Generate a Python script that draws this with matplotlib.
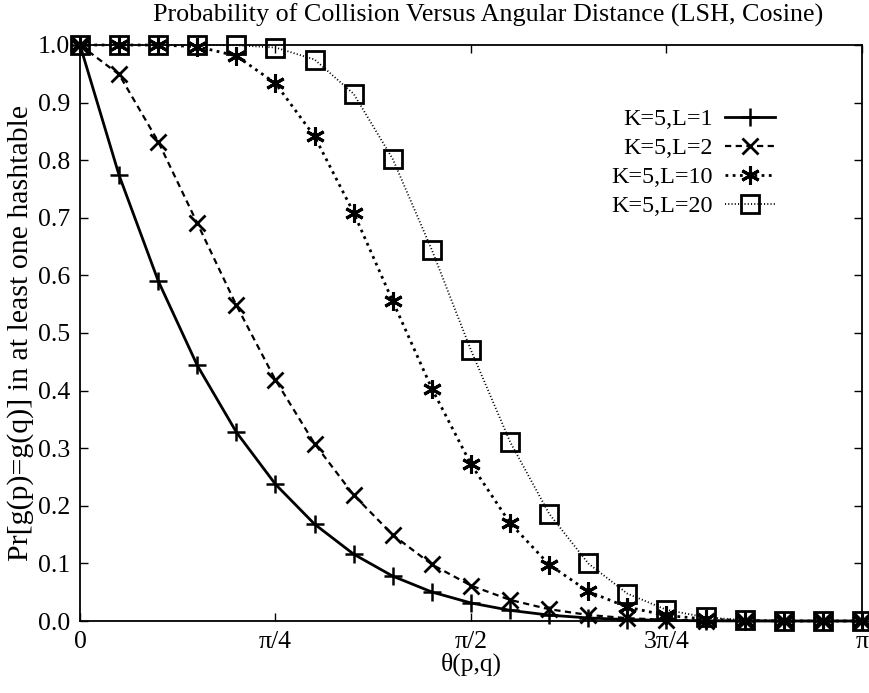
import numpy as np
import matplotlib
matplotlib.use("Agg")
import matplotlib.pyplot as plt

# Angular distance samples, in units of pi (0, pi/20, ..., pi)
theta_frac = [i / 20 for i in range(21)]

# Collision probability in at least one of L hash tables (K=5)
p_L1 = [1.0, 0.7738, 0.5905, 0.4437, 0.3277, 0.2373, 0.1681, 0.1160, 0.0778,
        0.0503, 0.0313, 0.0185, 0.0102, 0.0053, 0.0024, 0.0010, 0.0003,
        0.0001, 0.0, 0.0, 0.0]
p_L2 = [1.0, 0.9488, 0.8323, 0.6905, 0.5480, 0.4183, 0.3079, 0.2186, 0.1495,
        0.0981, 0.0615, 0.0366, 0.0204, 0.0105, 0.0049, 0.0020, 0.0006,
        0.0002, 0.0, 0.0, 0.0]
p_L10 = [1.0, 1.0, 0.9999, 0.9972, 0.9811, 0.9334, 0.8412, 0.7087, 0.5549,
         0.4033, 0.2720, 0.1699, 0.0978, 0.0513, 0.0240, 0.0097, 0.0032,
         0.0008, 0.0001, 0.0, 0.0]
p_L20 = [1.0, 1.0, 1.0, 1.0, 0.9996, 0.9956, 0.9748, 0.9151, 0.8019,
         0.6440, 0.4700, 0.3110, 0.1861, 0.0999, 0.0475, 0.0194, 0.0064,
         0.0015, 0.0002, 0.0, 0.0]

labels = ["K=5,L=1", "K=5,L=2", "K=5,L=10", "K=5,L=20"]
x_ticks = [0, 0.25, 0.5, 0.75, 1.0]
x_tick_labels = ["0", "π/4", "π/2", "3π/4", "π"]
y_ticks = [i / 10 for i in range(11)]

plt.rcParams["font.family"] = ["Liberation Serif", "DejaVu Serif"]
plt.rcParams["font.size"] = 17.4

fig = plt.figure(figsize=(8.7, 6.93), dpi=100)
ax = fig.add_axes([80 / 870, 72 / 693, 782 / 870, 576 / 693])

x = np.pi * np.array(theta_frac)

styles = [
    dict(ls="-", lw=2.0, marker="+", ms=13, mew=1.8),
    dict(ls=(0, (2.8, 2.0)), lw=1.6, marker="x", ms=11, mew=2.0),
    dict(ls=(0, (1.0, 1.6)), lw=2.0, marker=(6, 2, 0), ms=13.5, mew=2.2),
    dict(ls=(0, (0.6, 1.2)), lw=1.3, marker="s", ms=12.5, mew=2.0, mfc="none"),
]
series = [p_L1, p_L2, p_L10, p_L20]
for y, lab, st in zip(series, labels, styles):
    ax.plot(x, y, color="black", label=lab, clip_on=False, **st)

ax.set_xlim(0, np.pi)
ax.set_ylim(0, 1.0)
ax.set_xticks(np.pi * np.array(x_ticks))
ax.set_xticklabels(x_tick_labels)
ax.set_yticks(y_ticks)
ax.set_yticklabels([f"{v:.1f}" for v in y_ticks])
ax.tick_params(direction="in", length=6, width=1.0, top=True, right=True,
               labeltop=False, labelright=False, pad=7, labelsize=18.5)
for sp in ax.spines.values():
    sp.set_linewidth(1.3)

ax.set_title("Probability of Collision Versus Angular Distance (LSH, Cosine)",
             pad=17, fontsize=18.85, x=0.522)
ax.set_xlabel("θ(p,q)", labelpad=0, fontsize=18.3)
ax.set_ylabel("Pr[g(p)=g(q)] in at least one hashtable", labelpad=3,
              fontsize=21.5)

ax.legend(loc="upper right", bbox_to_anchor=(0.889, 0.89), frameon=False,
          markerfirst=False, handlelength=2.07, handletextpad=0.5,
          labelspacing=0.29, borderpad=0.0, borderaxespad=0.0)

fig.savefig("out.png", dpi=100)
